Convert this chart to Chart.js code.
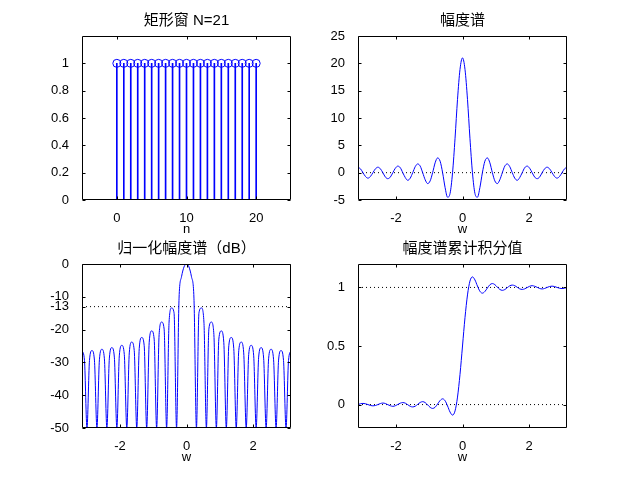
<!DOCTYPE html>
<html>
<head>
<meta charset="utf-8">
<title>矩形窗</title>
<script src="https://cdn.jsdelivr.net/npm/chart.js@4.4.1/dist/chart.umd.min.js"></script>
<style>
  html, body { margin: 0; padding: 0; background: #fff; }
  body { width: 627px; height: 481px; position: relative; overflow: hidden; }
  canvas { position: absolute; }
</style>
</head>
<body>
<canvas id="window_chart" width="329" height="245" style="left:22px;top:0px"></canvas>
<canvas id="spectrum_chart" width="329" height="245" style="left:298px;top:0px"></canvas>
<canvas id="db_chart" width="329" height="245" style="left:22px;top:228px"></canvas>
<canvas id="cumulative_chart" width="329" height="245" style="left:298px;top:228px"></canvas>
<script>
// rectangular window, N = 21
const sampleIndex = [0, 1, 2, 3, 4, 5, 6, 7, 8, 9, 10, 11, 12, 13, 14, 15, 16, 17, 18, 19, 20];
const windowValues = [1, 1, 1, 1, 1, 1, 1, 1, 1, 1, 1, 1, 1, 1, 1, 1, 1, 1, 1, 1, 1];
const sampleTicks = [0, 10, 20];
const windowTicks = [0, 0.2, 0.4, 0.6, 0.8, 1];

// frequency axis, -pi .. pi
const wValues = [
  -3.142, -3.067, -2.992, -2.917, -2.842, -2.768, -2.693, -2.618, -2.543, -2.468,
  -2.394, -2.319, -2.244, -2.169, -2.094, -2.020, -1.945, -1.870, -1.795, -1.720,
  -1.646, -1.571, -1.496, -1.421, -1.346, -1.272, -1.197, -1.122, -1.047, -0.972,
  -0.898, -0.823, -0.748, -0.673, -0.598, -0.524, -0.449, -0.374, -0.299, -0.224,
  -0.150, -0.075, 0,
  0.075, 0.150, 0.224, 0.299, 0.374, 0.449, 0.524, 0.598, 0.673, 0.748,
  0.823, 0.898, 0.972, 1.047, 1.122, 1.197, 1.272, 1.346, 1.421, 1.496,
  1.571, 1.646, 1.720, 1.795, 1.870, 1.945, 2.020, 2.094, 2.169, 2.244,
  2.319, 2.394, 2.468, 2.543, 2.618, 2.693, 2.768, 2.842, 2.917, 2.992,
  3.067, 3.142,
];
const wRange = [-3.1416, 3.1416];
const wTicks = [-2, 0, 2];

// 幅度谱
const amplitudeValues = [
  1.0, 0.7, 0, -0.7, -1.0, -0.7, 0, 0.7, 1.0, 0.7,
  0, -0.8, -1.1, -0.8, 0, 0.8, 1.2, 0.9, 0, -0.9,
  -1.4, -1.0, 0, 1.1, 1.6, 1.2, 0, -1.3, -2.0, -1.5,
  0, 1.8, 2.7, 2.1, 0, -2.7, -4.5, -3.8, 0, 6.3,
  13.4, 18.9, 21,
  18.9, 13.4, 6.3, 0, -3.8, -4.5, -2.7, 0, 2.1, 2.7,
  1.8, 0, -1.5, -2.0, -1.3, 0, 1.2, 1.6, 1.1, 0,
  -1.0, -1.4, -0.9, 0, 0.9, 1.2, 0.8, 0, -0.8, -1.1,
  -0.8, 0, 0.7, 1.0, 0.7, 0, -0.7, -1.0, -0.7, 0,
  0.7, 1.0,
];
const amplitudeTicks = [-5, 0, 5, 10, 15, 20, 25];
const amplitudeRefLevels = [0];

// 归一化幅度谱 (dB)
const dbValues = [
  -26.4, -29.4, -50, -29.4, -26.4, -29.3, -50, -29.2, -26.0, -28.9,
  -50, -28.7, -25.5, -28.4, -50, -28.0, -24.8, -27.6, -50, -27.1,
  -23.8, -26.4, -50, -25.8, -22.4, -24.9, -50, -24.0, -20.4, -22.9,
  -50, -21.5, -17.7, -19.8, -50, -17.7, -13.4, -14.9, -50, -10.4,
  -3.9, -0.9, 0,
  -0.9, -3.9, -10.4, -50, -14.9, -13.4, -17.7, -50, -19.8, -17.7,
  -21.5, -50, -22.9, -20.4, -24.0, -50, -24.9, -22.4, -25.8, -50,
  -26.4, -23.8, -27.1, -50, -27.6, -24.8, -28.0, -50, -28.4, -25.5,
  -28.7, -50, -28.9, -26.0, -29.2, -50, -29.3, -26.4, -29.4, -50,
  -29.4, -26.4,
];
const dbTicks = [-50, -40, -30, -20, -13, -10, 0];
const dbRefLevels = [-13];

// 幅度谱累计积分值
const cumulativeValues = [
  0.000, 0.007, 0.010, 0.007, 0.000, -0.008, -0.011, -0.008, 0.000, 0.009,
  0.013, 0.009, -0.001, -0.010, -0.015, -0.010, 0.001, 0.012, 0.017, 0.012,
  -0.001, -0.015, -0.020, -0.014, 0.002, 0.018, 0.025, 0.017, -0.003, -0.024,
  -0.033, -0.023, 0.005, 0.035, 0.049, 0.033, -0.012, -0.064, -0.090, -0.054,
  0.064, 0.258, 0.500,
  0.742, 0.936, 1.054, 1.090, 1.064, 1.012, 0.967, 0.951, 0.965, 0.995,
  1.023, 1.033, 1.024, 1.003, 0.983, 0.975, 0.982, 0.998, 1.014, 1.020,
  1.015, 1.001, 0.988, 0.983, 0.988, 0.999, 1.010, 1.015, 1.010, 1.001,
  0.991, 0.987, 0.991, 1.000, 1.008, 1.011, 1.008, 1.000, 0.993, 0.990,
  0.993, 1.000,
];
const cumulativeTicks = [0, 0.5, 1];
const cumulativeRefLevels = [0, 1];

const blue = "rgb(0, 0, 255)";
const tickFont = { family: '"Liberation Sans", Arial, sans-serif', size: 13 };
const titleFont = {
  family: '"Liberation Sans", "Noto Sans CJK SC", sans-serif',
  size: 15,
  weight: "normal",
  lineHeight: "18px",
};
// space round each axes box, in px
const frame = { left: 60, right: 60, top: 36, bottom: 45, tick: 3 };

const toPoints = (xs, ys) => xs.map((x, i) => ({ x, y: ys[i] }));

const fixedTicks = (values) => (scale) => {
  scale.ticks = values.map((value) => ({ value }));
};

const createXScale = (min, max, ticks, label) => ({
  type: "linear",
  position: "bottom",
  min,
  max,
  offset: false,
  afterBuildTicks: fixedTicks(ticks),
  afterFit: (scale) => {
    scale.height = frame.bottom;
  },
  grid: { display: false, offset: false },
  border: { display: false },
  ticks: {
    color: "#000",
    font: tickFont,
    padding: 3,
    autoSkip: false,
    maxRotation: 0,
    callback: (value) => String(value),
  },
  title: {
    display: true,
    text: label,
    color: "#000",
    font: { ...tickFont, lineHeight: "14px" },
    padding: { top: 0, bottom: 9 },
  },
});

const createYScale = (min, max, ticks) => ({
  type: "linear",
  position: "left",
  min,
  max,
  afterBuildTicks: fixedTicks(ticks),
  afterFit: (scale) => {
    scale.width = frame.left;
  },
  grid: { display: false },
  border: { display: false },
  ticks: {
    color: "#000",
    font: tickFont,
    padding: 5,
    autoSkip: false,
    callback: (value) => String(value),
  },
});

// empty axis on the right, only so the title is centred over the box
const spacerScale = {
  type: "linear",
  position: "right",
  grid: { display: false },
  border: { display: false },
  ticks: { display: false },
  afterFit: (scale) => {
    scale.width = frame.right;
  },
};

// matlab style box with inward tick marks on all four sides
const boxPlugin = {
  id: "matlabBox",
  afterDatasetsDraw(chart) {
    const { ctx, chartArea, scales } = chart;
    const left = Math.round(chartArea.left) + 0.5;
    const right = Math.round(chartArea.right) - 0.5;
    const top = Math.round(chartArea.top) + 0.5;
    const bottom = Math.round(chartArea.bottom) - 0.5;

    ctx.save();
    ctx.strokeStyle = "#000";
    ctx.lineWidth = 1;
    ctx.beginPath();
    scales.x.ticks.forEach(({ value }) => {
      const px = Math.round(scales.x.getPixelForValue(value)) + 0.5;
      ctx.moveTo(px, bottom);
      ctx.lineTo(px, bottom - frame.tick);
      ctx.moveTo(px, top);
      ctx.lineTo(px, top + frame.tick);
    });
    scales.y.ticks.forEach(({ value }) => {
      const py = Math.round(scales.y.getPixelForValue(value)) + 0.5;
      ctx.moveTo(left, py);
      ctx.lineTo(left + frame.tick, py);
      ctx.moveTo(right, py);
      ctx.lineTo(right - frame.tick, py);
    });
    ctx.rect(left, top, right - left, bottom - top);
    ctx.stroke();
    ctx.restore();
  },
};

const createOptions = (title, xScale, yScale) => ({
  responsive: false,
  animation: false,
  devicePixelRatio: 1,
  events: [],
  layout: { padding: 0 },
  scales: { x: xScale, y: yScale, spacer: spacerScale },
  plugins: {
    legend: { display: false },
    tooltip: { enabled: false },
    title: {
      display: true,
      text: title,
      color: "#000",
      font: titleFont,
      padding: { top: 12, bottom: 6 },
    },
  },
});

const createStemChart = (canvasId) => {
  const canvas = document.getElementById(canvasId);
  return new Chart(canvas, {
    type: "bar",
    data: {
      datasets: [
        {
          type: "line",
          data: toPoints(sampleIndex, windowValues),
          showLine: false,
          pointStyle: "circle",
          pointRadius: 4,
          pointBorderWidth: 1,
          pointBorderColor: blue,
          pointBackgroundColor: "rgba(0, 0, 0, 0)",
          xAxisID: "x",
          yAxisID: "y",
        },
        {
          type: "bar",
          data: toPoints(sampleIndex, windowValues),
          backgroundColor: blue,
          barThickness: 1,
          xAxisID: "x",
          yAxisID: "y",
        },
      ],
    },
    options: createOptions(
      "矩形窗 N=21",
      createXScale(-5, 25, sampleTicks, "n"),
      createYScale(0, 1.2, windowTicks)
    ),
    plugins: [boxPlugin],
  });
};

const createCurveChart = (canvasId, title, values, yMin, yMax, yTicks, refLevels) => {
  const canvas = document.getElementById(canvasId);

  const curve = {
    data: toPoints(wValues, values),
    borderColor: blue,
    borderWidth: 1,
    pointRadius: 0,
    cubicInterpolationMode: "monotone",
    xAxisID: "x",
    yAxisID: "y",
  };

  const refLines = refLevels.map((level) => ({
    data: [
      { x: wRange[0], y: level },
      { x: wRange[1], y: level },
    ],
    borderColor: "#000",
    borderWidth: 1,
    borderDash: [1, 3],
    pointRadius: 0,
    xAxisID: "x",
    yAxisID: "y",
  }));

  return new Chart(canvas, {
    type: "line",
    data: { datasets: [curve, ...refLines] },
    options: createOptions(
      title,
      createXScale(wRange[0], wRange[1], wTicks, "w"),
      createYScale(yMin, yMax, yTicks)
    ),
    plugins: [boxPlugin],
  });
};

createStemChart("window_chart");
createCurveChart("spectrum_chart", "幅度谱", amplitudeValues, -5, 25, amplitudeTicks, amplitudeRefLevels);
createCurveChart("db_chart", "归一化幅度谱（dB）", dbValues, -50, 0, dbTicks, dbRefLevels);
createCurveChart("cumulative_chart", "幅度谱累计积分值", cumulativeValues, -0.2, 1.2, cumulativeTicks, cumulativeRefLevels);
</script>
</body>
</html>
